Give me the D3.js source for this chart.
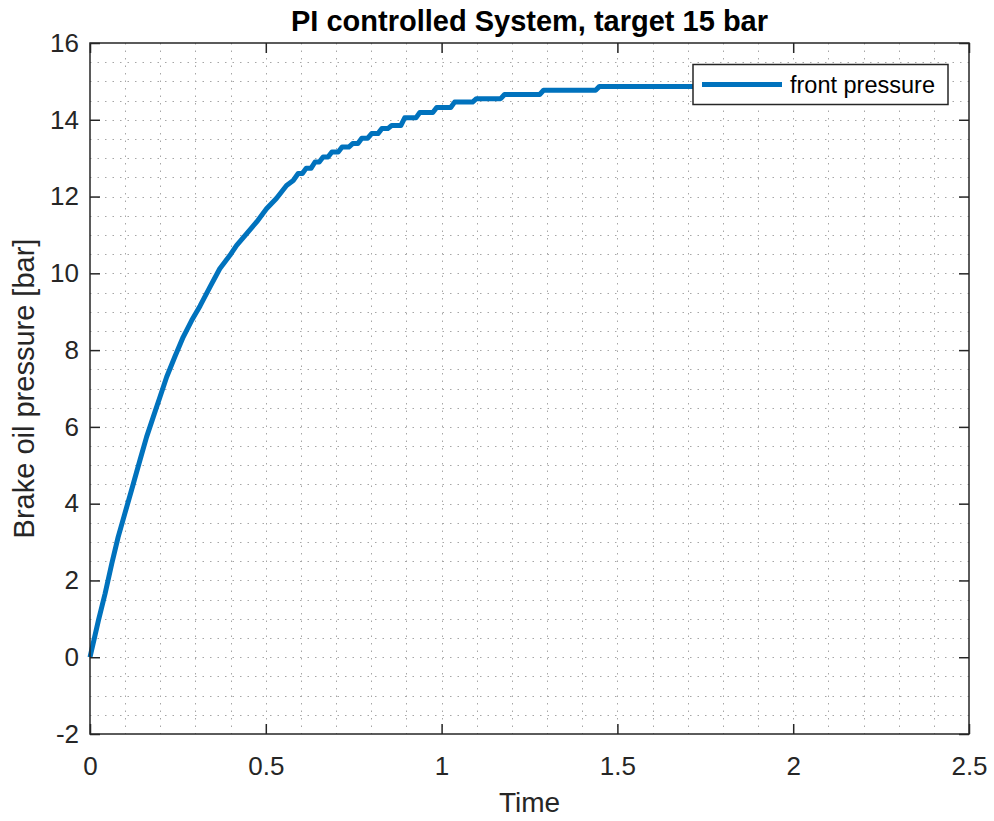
<!DOCTYPE html>
<html>
<head>
<meta charset="utf-8">
<script src="https://cdn.jsdelivr.net/npm/d3@7/dist/d3.min.js"></script>
<style>
  body { margin: 0; background: white; }
  text { font-family: "Liberation Sans", Arial, Helvetica, sans-serif; fill: #262626; }
</style>
</head>
<body>
<svg id="chart" width="994" height="821"></svg>
<script>
// values

// fast rise, drawn as a plain line
var rampTime     = [0, 0.024, 0.043, 0.062, 0.080, 0.099, 0.118, 0.142, 0.161, 0.180,
                    0.199, 0.218, 0.241, 0.265, 0.289, 0.313, 0.341, 0.369, 0.398, 0.417,
                    0.445, 0.474, 0.502, 0.530, 0.559, 0.578];
var rampPressure = [0, 0.96, 1.66, 2.44, 3.13, 3.74, 4.35, 5.13, 5.74, 6.26,
                    6.78, 7.30, 7.82, 8.34, 8.77, 9.15, 9.64, 10.12, 10.47, 10.73,
                    11.03, 11.34, 11.68, 11.95, 12.29, 12.42];

// quantised part near the target, each level held until the next one
var stepTime     = [0.592, 0.615, 0.640, 0.663, 0.688, 0.717, 0.747, 0.773, 0.801, 0.830,
                    0.858, 0.895, 0.938, 0.986, 1.037, 1.099, 1.179, 1.290, 1.449];
var stepPressure = [12.60, 12.74, 12.90, 13.03, 13.16, 13.29, 13.38, 13.52, 13.64, 13.77,
                    13.85, 14.05, 14.19, 14.32, 14.46, 14.55, 14.66, 14.77, 14.87];
var END_TIME = 2.0;
var RISE = 0.011;   // a level change takes about one sample

var xTicks = [0, 0.5, 1, 1.5, 2, 2.5];
var yTicks = [-2, 0, 2, 4, 6, 8, 10, 12, 14, 16];
var xMinorStep = 0.1;
var yMinorStep = 0.5;

var TITLE  = "PI controlled System, target 15 bar";
var XLABEL = "Time";
var YLABEL = "Brake oil pressure [bar]";
var SERIES = "front pressure";

// layout
var LEFT = 90, RIGHT = 969, TOP = 43, BOTTOM = 734;
var BLUE = "#0072BD";
var INK = "#262626";

var svg = d3.select("#chart");

var x = d3.scaleLinear().domain([0, 2.5]).range([LEFT, RIGHT]);
var y = d3.scaleLinear().domain([-2, 16]).range([BOTTOM, TOP]);

// dotted grid (major and minor look the same)
var grid = svg.append('g').attr('id', 'grid');

d3.range(0, 2.5 + 1e-9, xMinorStep).forEach(function(t){
  if (t < 1e-9 || t > 2.5 - 1e-9) return;
  grid.append('line')
  .attr('x1', Math.round(x(t)) + 0.5)
  .attr('x2', Math.round(x(t)) + 0.5)
  .attr('y1', TOP)
  .attr('y2', BOTTOM)
  .style('stroke', '#a6a6a6')
  .style('stroke-width', 1)
  .style('stroke-dasharray', '1.5,6');
});

d3.range(-2, 16 + 1e-9, yMinorStep).forEach(function(v){
  if (v < -2 + 1e-9 || v > 16 - 1e-9) return;
  grid.append('line')
  .attr('x1', LEFT)
  .attr('x2', RIGHT)
  .attr('y1', Math.round(y(v)) + 0.5)
  .attr('y2', Math.round(y(v)) + 0.5)
  .style('stroke', '#a6a6a6')
  .style('stroke-width', 1)
  .style('stroke-dasharray', '1.5,6');
});

// build the curve: ramp, then held levels with short slanted changes
var points = rampTime.map(function(t, i){ return [t, rampPressure[i]]; });
stepTime.forEach(function(t, i){
  var next = (i < stepTime.length - 1) ? stepTime[i + 1] - RISE : END_TIME;
  points.push([t, stepPressure[i]]);
  points.push([next, stepPressure[i]]);
});

var line = d3.line()
  .x(function(d){ return x(d[0]); })
  .y(function(d){ return y(d[1]); });

svg.append('path')
  .datum(points)
  .attr('d', line)
  .style('fill', 'none')
  .style('stroke', BLUE)
  .style('stroke-width', 5)
  .style('stroke-linejoin', 'round');

// axes, ticks pointing inward on all four sides
var fmt = function(d){ return String(d); };

var xAxis = svg.append('g')
  .attr('transform', 'translate(0,' + BOTTOM + ')')
  .call(d3.axisBottom(x).tickValues(xTicks).tickFormat(fmt).tickSizeInner(-10).tickSizeOuter(0).tickPadding(23));
var xAxisTop = svg.append('g')
  .attr('transform', 'translate(0,' + TOP + ')')
  .call(d3.axisTop(x).tickValues(xTicks).tickFormat('').tickSizeInner(-10).tickSizeOuter(0));
var yAxis = svg.append('g')
  .attr('transform', 'translate(' + LEFT + ',0)')
  .call(d3.axisLeft(y).tickValues(yTicks).tickFormat(fmt).tickSizeInner(-10).tickSizeOuter(0).tickPadding(11));
var yAxisRight = svg.append('g')
  .attr('transform', 'translate(' + RIGHT + ',0)')
  .call(d3.axisRight(y).tickValues(yTicks).tickFormat('').tickSizeInner(-10).tickSizeOuter(0));

[xAxis, xAxisTop, yAxis, yAxisRight].forEach(function(a){
  a.select('.domain').remove();
  a.selectAll('.tick line').style('stroke', INK).style('stroke-width', 1.5);
  a.selectAll('.tick text')
  .style('font-family', '"Liberation Sans", Arial, sans-serif')
  .style('font-size', '26px')
  .style('fill', INK);
});

// box
svg.append('rect')
  .attr('x', LEFT)
  .attr('y', TOP)
  .attr('width', RIGHT - LEFT)
  .attr('height', BOTTOM - TOP)
  .style('fill', 'none')
  .style('stroke', INK)
  .style('stroke-width', 1.5);

// title and labels
svg.append('text')
  .attr('x', (LEFT + RIGHT) / 2)
  .attr('y', 31)
  .attr('text-anchor', 'middle')
  .style('font-size', '29px')
  .style('font-weight', 'bold')
  .style('fill', '#000')
  .text(TITLE);

svg.append('text')
  .attr('x', (LEFT + RIGHT) / 2)
  .attr('y', 812)
  .attr('text-anchor', 'middle')
  .style('font-size', '28px')
  .text(XLABEL);

svg.append('text')
  .attr('transform', 'translate(34,' + ((TOP + BOTTOM) / 2) + ') rotate(-90)')
  .attr('text-anchor', 'middle')
  .style('font-size', '29px')
  .text(YLABEL);

// legend
var legend = svg.append('g').attr('id', 'legend');
legend.append('rect')
  .attr('x', 693)
  .attr('y', 64.5)
  .attr('width', 255)
  .attr('height', 40)
  .style('fill', 'white')
  .style('stroke', INK)
  .style('stroke-width', 1.5);
legend.append('line')
  .attr('x1', 702)
  .attr('x2', 782)
  .attr('y1', 84.5)
  .attr('y2', 84.5)
  .style('stroke', BLUE)
  .style('stroke-width', 5);
legend.append('text')
  .attr('x', 790)
  .attr('y', 84.5)
  .attr('dy', '0.35em')
  .style('font-size', '23.5px')
  .style('fill', '#000')
  .text(SERIES);
</script>
</body>
</html>
